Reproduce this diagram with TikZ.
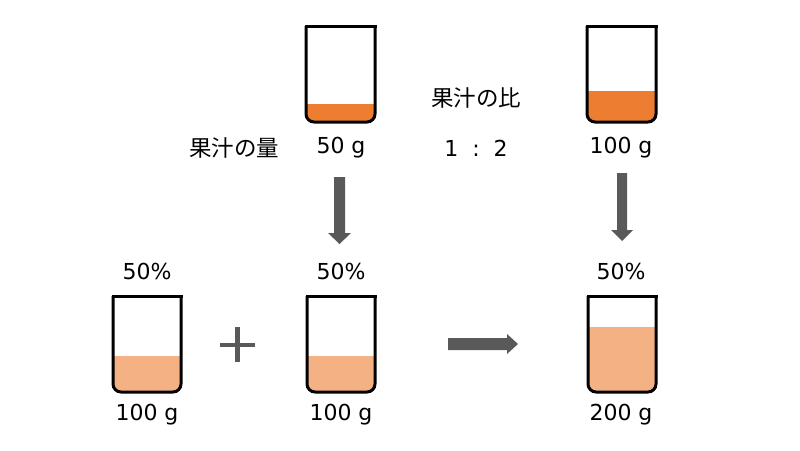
\documentclass[tikz,border=0pt]{standalone}
\usepackage{fontspec}
\setmainfont{Noto Sans CJK JP}
\newfontfamily\latfont{DejaVu Sans}
\definecolor{darkor}{HTML}{ED7D31}
\definecolor{lightor}{HTML}{F4B183}
\definecolor{arrgray}{HTML}{595959}
\newcommand\mybeaker[6]{%
  \begin{scope}
    \clip[rounded corners=8] (#1,#3) rectangle (#2,#4);
    \fill[#6] (#1,#5) rectangle (#2,#4);
  \end{scope}
  \draw[line width=3, rounded corners=8] (#1,#3) -- (#1,#4) -- (#2,#4) -- (#2,#3);
  \draw[line width=3, line cap=rect] (#1,#3) -- (#2,#3);
}
\begin{document}
\begin{tikzpicture}[x=1pt,y=-1pt,
  lbl/.style={font=\fontsize{22.5}{26}\selectfont, inner sep=0pt},
  num/.style={font=\latfont\fontsize{22}{26}\selectfont, inner sep=0pt},
  arrowfill/.style={fill=arrgray}]
\useasboundingbox (0,0) rectangle (800,450);
% beakers
\mybeaker{306}{375}{26}{122}{104}{darkor}
\mybeaker{587}{656}{26}{122}{91}{darkor}
\mybeaker{113}{181}{296}{392}{356}{lightor}
\mybeaker{307}{375}{296}{392}{356}{lightor}
\mybeaker{588}{656}{296}{392}{327}{lightor}
% texts
\node[lbl] (qty) at (234,148) {果汁の量};
\node[num] (g50) at (341,148) {50 g};
\node[lbl] (ratio) at (476,98) {果汁の比};
\node[num] (r12) at (476,148) {1\hspace{14pt}:\hspace{14pt}2};
\node[num] (g100t) at (621,148) {100 g};
\node[num] (p1) at (147,271) {50\%};
\node[num] (p2) at (341,271) {50\%};
\node[num] (p3) at (621,271) {50\%};
\node[num] (g100a) at (147,415) {100 g};
\node[num] (g100b) at (341,415) {100 g};
\node[num] (g200) at (621,415) {200 g};
% down arrows
\fill[arrowfill] (334,177) -- (345,177) -- (345,233) -- (351,233) -- (339.5,244) -- (328,233) -- (334,233) -- cycle;
\fill[arrowfill] (617,173) -- (627,173) -- (627,230) -- (633,230) -- (622,241) -- (611,230) -- (617,230) -- cycle;
% right arrow
\fill[arrowfill] (448,338) -- (507,338) -- (507,334) -- (518,344) -- (507,354) -- (507,350) -- (448,350) -- cycle;
% plus
\draw[arrgray, line width=4.5] (220,345) -- (255,345);
\draw[arrgray, line width=4.5] (237.5,327) -- (237.5,362);
\end{tikzpicture}
\end{document}
